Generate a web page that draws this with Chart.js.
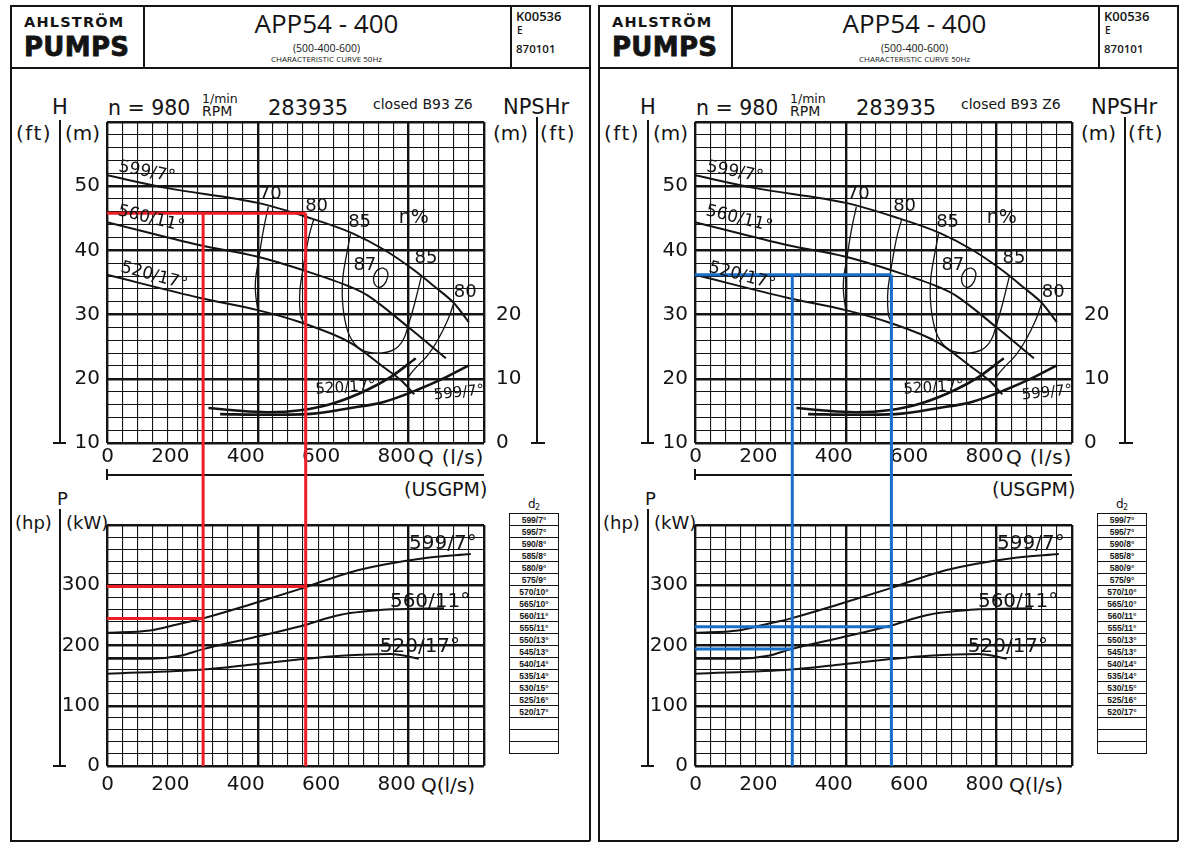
<!DOCTYPE html>
<html>
<head>
<meta charset="utf-8">
<title>APP54 - 400 characteristic curve</title>
<script src="https://cdn.jsdelivr.net/npm/chart.js@4.4.1/dist/chart.umd.min.js"></script>
<style>
  body { margin: 0; background: #fff; width: 1184px; height: 843px; position: relative; overflow: hidden; font-family: 'DejaVu Sans', sans-serif; color: #141414; }
  .a { position: absolute; white-space: nowrap; line-height: 1; }
  .ln { position: absolute; background: #141414; }
  canvas { position: absolute; }
  table.d2 { position: absolute; border-collapse: collapse; }
  table.d2 td { border: 1px solid #141414; height: 11px; width: 48px; padding: 0; text-align: center; line-height: 11px;
    font: 600 8.5px 'Liberation Sans Narrow', 'Liberation Sans', sans-serif; }
</style>
</head>
<body>
<script>
// axis labels
const qTicks = [0, 200, 400, 600, 800];       // Q (l/s)
const hTicks = [10, 20, 30, 40, 50];          // H (m)
const npshTicks = [0, 10, 20];                // NPSHr (m)
const pTicks = [0, 100, 200, 300];            // P (kW)

// impeller trims drawn on the sheet
const trims = ['599/7°', '560/11°', '520/17°'];
const effLevels = ['70', '80', '85', '87'];

// H-Q curves
const q599 = [0, 160, 400, 530, 650, 735, 815, 870, 920, 960];
const h599 = [51.7, 49.7, 47.4, 45.2, 42.7, 40.1, 36.9, 34.3, 31.8, 28.8];
const q560 = [0, 247, 400, 521, 646, 691, 798, 899];
const h560 = [44.4, 40.8, 39.0, 36.9, 34.3, 33.0, 28.1, 23.2];
const q520 = [0, 247, 400, 513, 646, 734, 779, 815];
const h520 = [36.2, 32.6, 30.7, 28.8, 25.6, 21.8, 19.8, 17.6];

// efficiency lines (eta %)
const q70 = [428, 415, 402, 394, 394, 399];
const h70 = [46.8, 43.2, 38.5, 35.4, 33.4, 31.0];
const q80a = [548, 535, 521, 512, 511, 514, 521];
const h80a = [44.8, 42.0, 37.5, 34.0, 31.5, 29.8, 28.8];
const q85 = [646, 636, 626, 624, 630, 645, 675, 718, 760, 785, 800, 815, 834];
const h85 = [42.6, 39.5, 36.0, 33.0, 29.5, 26.5, 24.5, 24.0, 24.5, 26.0, 28.5, 31.5, 36.0];
const q87 = [731, 742, 745, 734, 718, 707, 715, 731];
const h87 = [37.3, 36.9, 36.0, 34.6, 34.3, 35.4, 36.8, 37.3];
const q80b = [920, 904, 877, 851, 814, 793];
const h80b = [31.8, 29.2, 26.0, 23.7, 21.4, 19.8];

// NPSHr curves
const qN520 = [269, 335, 426, 513, 601, 691, 753, 819];
const nN520 = [5.45, 5.1, 4.8, 5.1, 6.2, 8.3, 10.3, 13.2];
const qN599 = [300, 426, 532, 646, 734, 824, 894, 960];
const nN599 = [4.5, 4.4, 4.5, 5.45, 6.4, 8.3, 10.1, 12.1];

// power curves
const qP599 = [0, 114, 186, 255, 380, 513, 665, 840, 965];
const pP599 = [221, 225, 235, 245, 268, 294, 325, 345, 352];
const qP560 = [0, 114, 194, 255, 380, 513, 620, 753, 894];
const pP560 = [178, 178, 183, 194, 212, 232, 251, 260, 262];
const qP520 = [0, 255, 380, 513, 620, 753, 827];
const pP520 = [153, 160, 168, 177, 183, 186, 178];

// reading lines drawn by hand on each copy
const redQ = [255, 527];
const redH = 45.8;
const redP = [245, 298];
const blueQ = [258, 521];
const blueH = 36.2;
const blueP = [194, 231];

const d2List = ['599/7°', '595/7°', '590/8°', '585/8°', '580/9°', '575/9°', '570/10°', '565/10°', '560/11°',
  '555/11°', '550/13°', '545/13°', '540/14°', '535/14°', '530/15°', '525/16°', '520/17°', '', '', ''];

const ink = '#141414';
const fam = "'DejaVu Sans', sans-serif";

function pts(xs, ys) { return xs.map((x, i) => ({ x: x, y: ys[i] })); }

function curve(data, w, extra) {
  return Object.assign({ data: data, borderColor: ink, borderWidth: w, pointRadius: 0, fill: false,
    cubicInterpolationMode: 'monotone' }, extra || {});
}
function contour(data) {
  return { data: data, borderColor: ink, borderWidth: 1.3, pointRadius: 0, fill: false, tension: 0.4 };
}
function straight(data, color) {
  return { data: data, borderColor: color, borderWidth: 3, pointRadius: 0, fill: false, tension: 0 };
}

function txt(s, x, y, size, extra) {
  const d = document.createElement('div');
  d.className = 'a';
  d.textContent = s;
  d.style.left = x + 'px';
  d.style.top = y + 'px';
  d.style.fontSize = size + 'px';
  if (extra) Object.assign(d.style, extra);
  document.body.appendChild(d);
  return d;
}
function rule(x, y, w, h) {
  const d = document.createElement('div');
  d.className = 'ln';
  Object.assign(d.style, { left: x + 'px', top: y + 'px', width: w + 'px', height: h + 'px' });
  document.body.appendChild(d);
}

// text written along the curves, placed in data units
function notes(items) {
  return {
    id: 'notes',
    afterDatasetsDraw(chart) {
      const ctx = chart.ctx;
      items.forEach(t => {
        const x = chart.scales.x.getPixelForValue(t.q);
        const y = chart.scales[t.axis || 'y'].getPixelForValue(t.v);
        ctx.save();
        ctx.translate(x, y);
        ctx.rotate((t.rot || 0) * Math.PI / 180);
        ctx.font = (t.size || 17) + 'px ' + fam;
        ctx.fillStyle = ink;
        ctx.textAlign = 'center';
        ctx.textBaseline = 'middle';
        ctx.fillText(t.text, 0, 0);
        ctx.restore();
      });
    }
  };
}

// continue the reading lines through the gap between the two grids
function gap(qs, color, below) {
  return {
    id: 'gap',
    afterDatasetsDraw(chart) {
      const ctx = chart.ctx, a = chart.chartArea;
      ctx.save();
      ctx.strokeStyle = color;
      ctx.lineWidth = 3;
      qs.forEach(q => {
        const x = chart.scales.x.getPixelForValue(q);
        ctx.beginPath();
        if (below) { ctx.moveTo(x, a.bottom); ctx.lineTo(x, chart.height); }
        else { ctx.moveTo(x, 0); ctx.lineTo(x, a.top); }
        ctx.stroke();
      });
      ctx.restore();
    }
  };
}

function qScale(pad, height) {
  return {
    type: 'linear', min: 0, max: 1000,
    border: { display: false },
    grid: { color: ink, drawTicks: false,
      lineWidth: c => (c.tick && (c.tick.value % 400 === 0 || c.tick.value === 1000)) ? 2.4 : 1.1 },
    ticks: { stepSize: 40, autoSkip: false, maxRotation: 0, align: 'end', labelOffset: 7, padding: pad,
      color: ink, font: { family: fam, size: 20 },
      callback: v => qTicks.includes(v) ? String(v) : '' },
    afterFit: s => { s.height = height; }
  };
}

function valueScale(min, max, step, major, labels) {
  return {
    min: min, max: max,
    border: { display: false },
    grid: { color: ink, drawTicks: false,
      lineWidth: c => (c.tick && c.tick.value % major === 0) ? 2.4 : 1.1 },
    ticks: { stepSize: step, autoSkip: false, padding: 7, color: ink, font: { family: fam, size: 20 },
      callback: v => labels.includes(v) ? String(v) : '' },
    afterFit: s => { s.width = 95; }
  };
}

function canvasAt(x, y, w, h) {
  const cv = document.createElement('canvas');
  cv.width = w;
  cv.height = h;
  cv.style.left = x + 'px';
  cv.style.top = y + 'px';
  document.body.appendChild(cv);
  return cv;
}

function headChart(ox, color, oq, oh) {
  const cv = canvasAt(ox + 12, 90, 570, 416);
  new Chart(cv, {
    type: 'line',
    data: { datasets: [
      straight(pts([0, oq[1]], [oh, oh]), color),
      straight(pts([oq[0], oq[0]], [oh, 10]), color),
      straight(pts([oq[1], oq[1]], [oh, 10]), color),
      curve(pts(q599, h599), 2),
      curve(pts(q560, h560), 2),
      curve(pts(q520, h520), 2),
      contour(pts(q70, h70)),
      contour(pts(q80a, h80a)),
      contour(pts(q85, h85)),
      contour(pts(q87, h87)),
      contour(pts(q80b, h80b)),
      curve(pts(qN520, nN520), 2.6, { yAxisID: 'yN' }),
      curve(pts(qN599, nN599), 2.6, { yAxisID: 'yN' })
    ] },
    options: {
      responsive: false, animation: false, events: [],
      layout: { padding: { top: 32, bottom: 33, left: 0, right: 0 } },
      plugins: { legend: { display: false }, tooltip: { enabled: false } },
      scales: {
        x: qScale(2, 30),
        y: valueScale(10, 60, 2, 10, hTicks),
        yN: {
          position: 'right', min: 0, max: 50,
          grid: { display: false }, border: { display: false },
          ticks: { stepSize: 10, padding: 4, color: ink, font: { family: fam, size: 20 },
            callback: v => npshTicks.includes(v) ? String(v) : '' },
          afterFit: s => { s.width = 98; }
        }
      }
    },
    plugins: [
      notes([
        { text: trims[0], q: 106, v: 52.2, rot: 11 },
        { text: trims[1], q: 117, v: 44.9, rot: 14 },
        { text: trims[2], q: 125, v: 36.0, rot: 15 },
        { text: effLevels[0], q: 433, v: 48.8, size: 18 },
        { text: effLevels[1], q: 556, v: 46.8, size: 18 },
        { text: effLevels[2], q: 670, v: 44.4, size: 18 },
        { text: 'η%', q: 814, v: 45.0, size: 19 },
        { text: effLevels[2], q: 846, v: 38.7, size: 18 },
        { text: effLevels[3], q: 684, v: 37.6, size: 18 },
        { text: effLevels[1], q: 950, v: 33.5, size: 18 },
        { text: trims[2], q: 633, v: 8.6, axis: 'yN', rot: -4, size: 15 },
        { text: trims[0], q: 934, v: 7.8, axis: 'yN', rot: -6, size: 15 }
      ]),
      gap(oq, color, true)
    ]
  });
}

function powerChart(ox, color, oq, op) {
  const cv = canvasAt(ox + 12, 506, 570, 300);
  new Chart(cv, {
    type: 'line',
    data: { datasets: [
      straight(pts([0, oq[0]], [op[0], op[0]]), color),
      straight(pts([0, oq[1]], [op[1], op[1]]), color),
      straight(pts([oq[0], oq[0]], [400, 0]), color),
      straight(pts([oq[1], oq[1]], [400, 0]), color),
      curve(pts(qP599, pP599), 2),
      curve(pts(qP560, pP560), 2),
      curve(pts(qP520, pP520), 2)
    ] },
    options: {
      responsive: false, animation: false, events: [],
      layout: { padding: { top: 2, bottom: 4, left: 0, right: 98 } },
      plugins: { legend: { display: false }, tooltip: { enabled: false } },
      scales: {
        x: qScale(7, 36),
        y: valueScale(0, 400, 20, 100, pTicks)
      }
    },
    plugins: [
      notes([
        { text: trims[0], q: 891, v: 368, size: 20 },
        { text: trims[1], q: 857, v: 272, size: 20 },
        { text: trims[2], q: 830, v: 198, size: 20 }
      ]),
      gap(oq, color, false)
    ]
  });
}

function sheet(ox, color, oq, oh, op) {
  // frame and title block
  rule(ox + 10, 5, 580, 1.6);
  rule(ox + 10, 67, 580, 1.6);
  rule(ox + 10, 5, 1.6, 836);
  rule(ox + 589, 5, 1.6, 836);
  rule(ox + 10, 840, 580, 1.6);
  rule(ox + 143, 5, 1.6, 63);
  rule(ox + 510, 5, 1.6, 63);
  txt('AHLSTRÖM', ox + 24, 15, 14.5, { fontWeight: 'bold', letterSpacing: '1.2px' });
  txt('PUMPS', ox + 24, 34, 26, { fontWeight: 'bold', letterSpacing: '0.3px', WebkitTextStroke: '0.8px #141414' });
  const mid = { width: '367px', textAlign: 'center', fontFamily: "'Open Sans', sans-serif" };
  txt('APP54 - 400', ox + 143, 10, 26, mid);
  txt('(500-400-600)', ox + 143, 43, 10.5, mid);
  txt('CHARACTERISTIC CURVE 50Hz', ox + 143, 55, 8, mid);
  const side = { fontFamily: "'Open Sans', sans-serif", fontWeight: '600' };
  txt('K00536', ox + 516, 10, 13, side);
  txt('E', ox + 517, 25, 10, side);
  txt('870101', ox + 516, 43, 11.5, side);

  // axis captions of the head / NPSH grid
  txt('H', ox + 52, 97, 21);
  txt('(ft)', ox + 16, 123, 20, { letterSpacing: '1.5px' });
  txt('(m)', ox + 65, 123, 20);
  rule(ox + 59, 120, 1.8, 324);
  rule(ox + 53, 442, 13, 1.8);
  txt('n = 980', ox + 108, 98, 20.5);
  txt('1/min', ox + 202, 93, 12.5);
  txt('RPM', ox + 202, 104, 14);
  txt('283935', ox + 268, 98, 21);
  txt('closed B93 Z6', ox + 373, 97, 14);
  txt('NPSHr', ox + 503, 97, 21);
  txt('(m)', ox + 493, 123, 20);
  txt('(ft)', ox + 540, 123, 20, { letterSpacing: '1.5px' });
  rule(ox + 536, 117, 1.8, 327);
  rule(ox + 531, 442, 14, 1.8);
  txt('Q (l/s)', ox + 418, 447, 20, { letterSpacing: '0.8px' });

  // USGPM scale line between the grids
  rule(ox + 107, 474, 377, 1.8);
  rule(ox + 106, 469, 1.8, 11);
  txt('(USGPM)', ox + 404, 480, 19);

  // power grid captions
  txt('P', ox + 57, 490, 18);
  txt('(hp)', ox + 15, 514, 18);
  txt('(kW)', ox + 66, 514, 18);
  rule(ox + 59, 509, 1.8, 258);
  rule(ox + 53, 765, 13, 1.8);
  txt('Q(l/s)', ox + 421, 775, 20);

  // impeller table
  txt('d', ox + 528, 498, 12);
  txt('2', ox + 535, 504, 8);
  const tb = document.createElement('table');
  tb.className = 'd2';
  tb.style.left = (ox + 509) + 'px';
  tb.style.top = '513px';
  d2List.forEach(s => {
    const tr = tb.insertRow();
    tr.insertCell().textContent = s;
  });
  document.body.appendChild(tb);

  headChart(ox, color, oq, oh);
  powerChart(ox, color, oq, op);
}

sheet(0, 'rgb(238, 30, 36)', redQ, redH, redP);
sheet(588, 'rgb(22, 110, 205)', blueQ, blueH, blueP);
</script>
</body>
</html>
